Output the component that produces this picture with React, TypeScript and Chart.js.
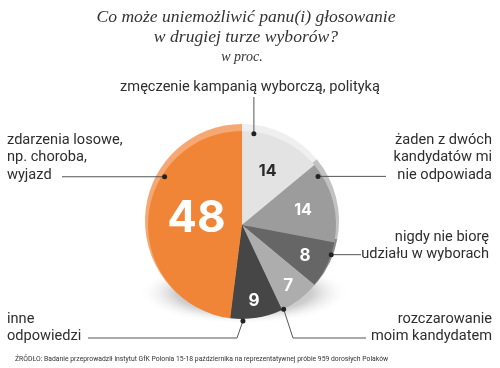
import React, { useEffect, useRef } from "react";
import { Chart, registerables } from "chart.js";
Chart.register(...registerables);

const categories = [
  "zmęczenie kampanią wyborczą, polityką",
  "żaden z dwóch kandydatów mi nie odpowiada",
  "nigdy nie biorę udziału w wyborach",
  "rozczarowanie moim kandydatem",
  "inne odpowiedzi",
  "zdarzenia losowe, np. choroba, wyjazd",
];
const values = [14, 14, 8, 7, 9, 48];
const labelLines = [
  ["zmęczenie kampanią wyborczą, polityką"],
  ["żaden z dwóch", "kandydatów mi", "nie odpowiada"],
  ["nigdy nie biorę", "udziału w wyborach"],
  ["rozczarowanie", "moim kandydatem"],
  ["inne", "odpowiedzi"],
  ["zdarzenia losowe,", "np. choroba,", "wyjazd"],
];
const titleLines = ["Co może uniemożliwić panu(i) głosowanie", "w drugiej turze wyborów?"];
const subtitle = "w proc.";
const source =
  "ŹRÓDŁO: Badanie przeprowadził instytut GfK Polonia 15-18 października na reprezentatywnej próbie 959 dorosłych Polaków";

const sliceColors = ["#e3e3e3", "#9c9c9c", "#666666", "#adadad", "#464646", "#f08537"];
const rimColors = ["#efefef", "#c2c2c2", "#8a8a8a", "#c6c6c6", "#5e5e5e", "#f5a874"];
const valueColors = ["#2a2a2a", "#ffffff", "#ffffff", "#ffffff", "#ffffff", "#ffffff"];
const valueFonts = [16, 16, 17, 17, 17, 44];
const valueRadius = [0.64, 0.67, 0.74, 0.8, 0.81, 0.49];
const valueAngleShift = [0, 0, 0, 0, 0, 5];

// leader layout: dot at fraction of slice angle & radius, then path
const dotFrac = [0.147, 0.139, 0.264, 0.956, 0.76, 0.664];
const dotRad = [0.98, 0.96, 1.0, 1.0, 1.02, 0.97];

const deg = Math.PI / 180;

const overlay = {
  id: "overlay",
  beforeDatasetsDraw(chart: any) {
    const ctx = chart.ctx;
    const arcs = chart.getDatasetMeta(0).data;
    if (!arcs.length) return;
    const cx = arcs[0].x;
    const cy = arcs[0].y;
    const R = arcs[0].outerRadius;
    // shadow
    ctx.save();
    const sy = cy + R * 0.72;
    ctx.translate(cx + 2, sy);
    ctx.scale(1, 0.3);
    const g = ctx.createRadialGradient(0, 0, 0, 0, 0, R * 1.12);
    g.addColorStop(0, "rgba(110,110,110,0.8)");
    g.addColorStop(0.65, "rgba(160,160,160,0.5)");
    g.addColorStop(1, "rgba(255,255,255,0)");
    ctx.fillStyle = g;
    ctx.beginPath();
    ctx.arc(0, 0, R * 1.12, 0, Math.PI * 2);
    ctx.fill();
    ctx.restore();
    ctx.save();
    // rim
    arcs.forEach((a: any, i: number) => {
      ctx.beginPath();
      ctx.moveTo(cx, cy - 4);
      ctx.arc(cx, cy - 4, R + 3, a.startAngle, a.endAngle);
      ctx.closePath();
      ctx.fillStyle = rimColors[i];
      ctx.fill();
    });
    ctx.restore();
  },
  afterDraw(chart: any) {
    const ctx = chart.ctx;
    const arcs = chart.getDatasetMeta(0).data;
    if (!arcs.length) return;
    const cx = arcs[0].x;
    const cy = arcs[0].y;
    const R = arcs[0].outerRadius;
    ctx.save();
    // title
    ctx.fillStyle = "#333";
    ctx.textAlign = "center";
    ctx.textBaseline = "alphabetic";
    ctx.font = "italic 17.6px 'Liberation Serif'";
    ctx.fillText(titleLines[0], 246, 22);
    ctx.fillText(titleLines[1], 246, 42);
    ctx.font = "italic 14px 'Liberation Serif'";
    ctx.fillText(subtitle, 242, 61);

    // values
    arcs.forEach((a: any, i: number) => {
      const mid = (a.startAngle + a.endAngle) / 2 + valueAngleShift[i] * deg;
      const r = R * valueRadius[i];
      ctx.fillStyle = valueColors[i];
      ctx.font = `bold ${valueFonts[i]}px Inter`;
      ctx.textAlign = "center";
      ctx.textBaseline = "middle";
      ctx.fillText(String(values[i]), cx + r * Math.cos(mid), cy + r * Math.sin(mid) + 1);
    });

    // leaders
    const dots = arcs.map((a: any, i: number) => {
      const ang = a.startAngle + dotFrac[i] * (a.endAngle - a.startAngle);
      return [cx + R * dotRad[i] * Math.cos(ang), cy + R * dotRad[i] * Math.sin(ang)];
    });
    const paths: number[][][] = [
      [dots[0], [dots[0][0], 97]],
      [dots[1], [386, dots[1][1]]],
      [dots[2], [361, dots[2][1]]],
      [dots[3], [293, 338], [366, 338]],
      [dots[4], [237, 338], [88, 338]],
      [dots[5], [62, dots[5][1]]],
    ];
    ctx.strokeStyle = "#555";
    ctx.lineWidth = 1;
    paths.forEach((p) => {
      ctx.beginPath();
      ctx.moveTo(p[0][0], p[0][1]);
      for (let k = 1; k < p.length; k++) ctx.lineTo(p[k][0], p[k][1]);
      ctx.stroke();
    });
    ctx.fillStyle = "#222";
    dots.forEach((d: number[]) => {
      ctx.beginPath();
      ctx.arc(d[0], d[1], 2.5, 0, Math.PI * 2);
      ctx.fill();
    });

    // category labels
    ctx.fillStyle = "#2e2e2e";
    ctx.font = "14.6px Roboto";
    ctx.textBaseline = "middle";
    const lh = 17.5;
    ctx.textAlign = "center";
    ctx.fillText(labelLines[0][0], 250, 87);
    ctx.textAlign = "right";
    labelLines[1].forEach((t, k) => ctx.fillText(t, 492, 140 + k * lh));
    labelLines[2].forEach((t, k) => ctx.fillText(t, 489, 237 + k * lh));
    labelLines[3].forEach((t, k) => ctx.fillText(t, 492, 319 + k * lh));
    ctx.textAlign = "left";
    labelLines[4].forEach((t, k) => ctx.fillText(t, 7, 319 + k * lh));
    labelLines[5].forEach((t, k) => ctx.fillText(t, 7, 140 + k * lh));

    // source
    ctx.fillStyle = "#333";
    ctx.font = "6.8px Roboto";
    ctx.textAlign = "left";
    ctx.fillText(source, 15, 359);
    ctx.restore();
  },
};

export default function App() {
  const ref = useRef<HTMLCanvasElement>(null);
  useEffect(() => {
    document.body.style.margin = "0";
    const chart = new Chart(ref.current!, {
      type: "pie",
      data: {
        labels: categories,
        datasets: [
          {
            data: values,
            backgroundColor: sliceColors,
            borderWidth: 0,
          },
        ],
      },
      options: {
        responsive: false,
        animation: false,
        layout: { padding: { top: 131, bottom: 49, left: 148, right: 164 } },
        plugins: { legend: { display: false }, tooltip: { enabled: false } },
      },
      plugins: [overlay],
    });
    return () => chart.destroy();
  }, []);
  return (
    <div style={{ width: 500, height: 368, background: "#fff" }}>
      <canvas ref={ref} width={500} height={368} />
    </div>
  );
}
